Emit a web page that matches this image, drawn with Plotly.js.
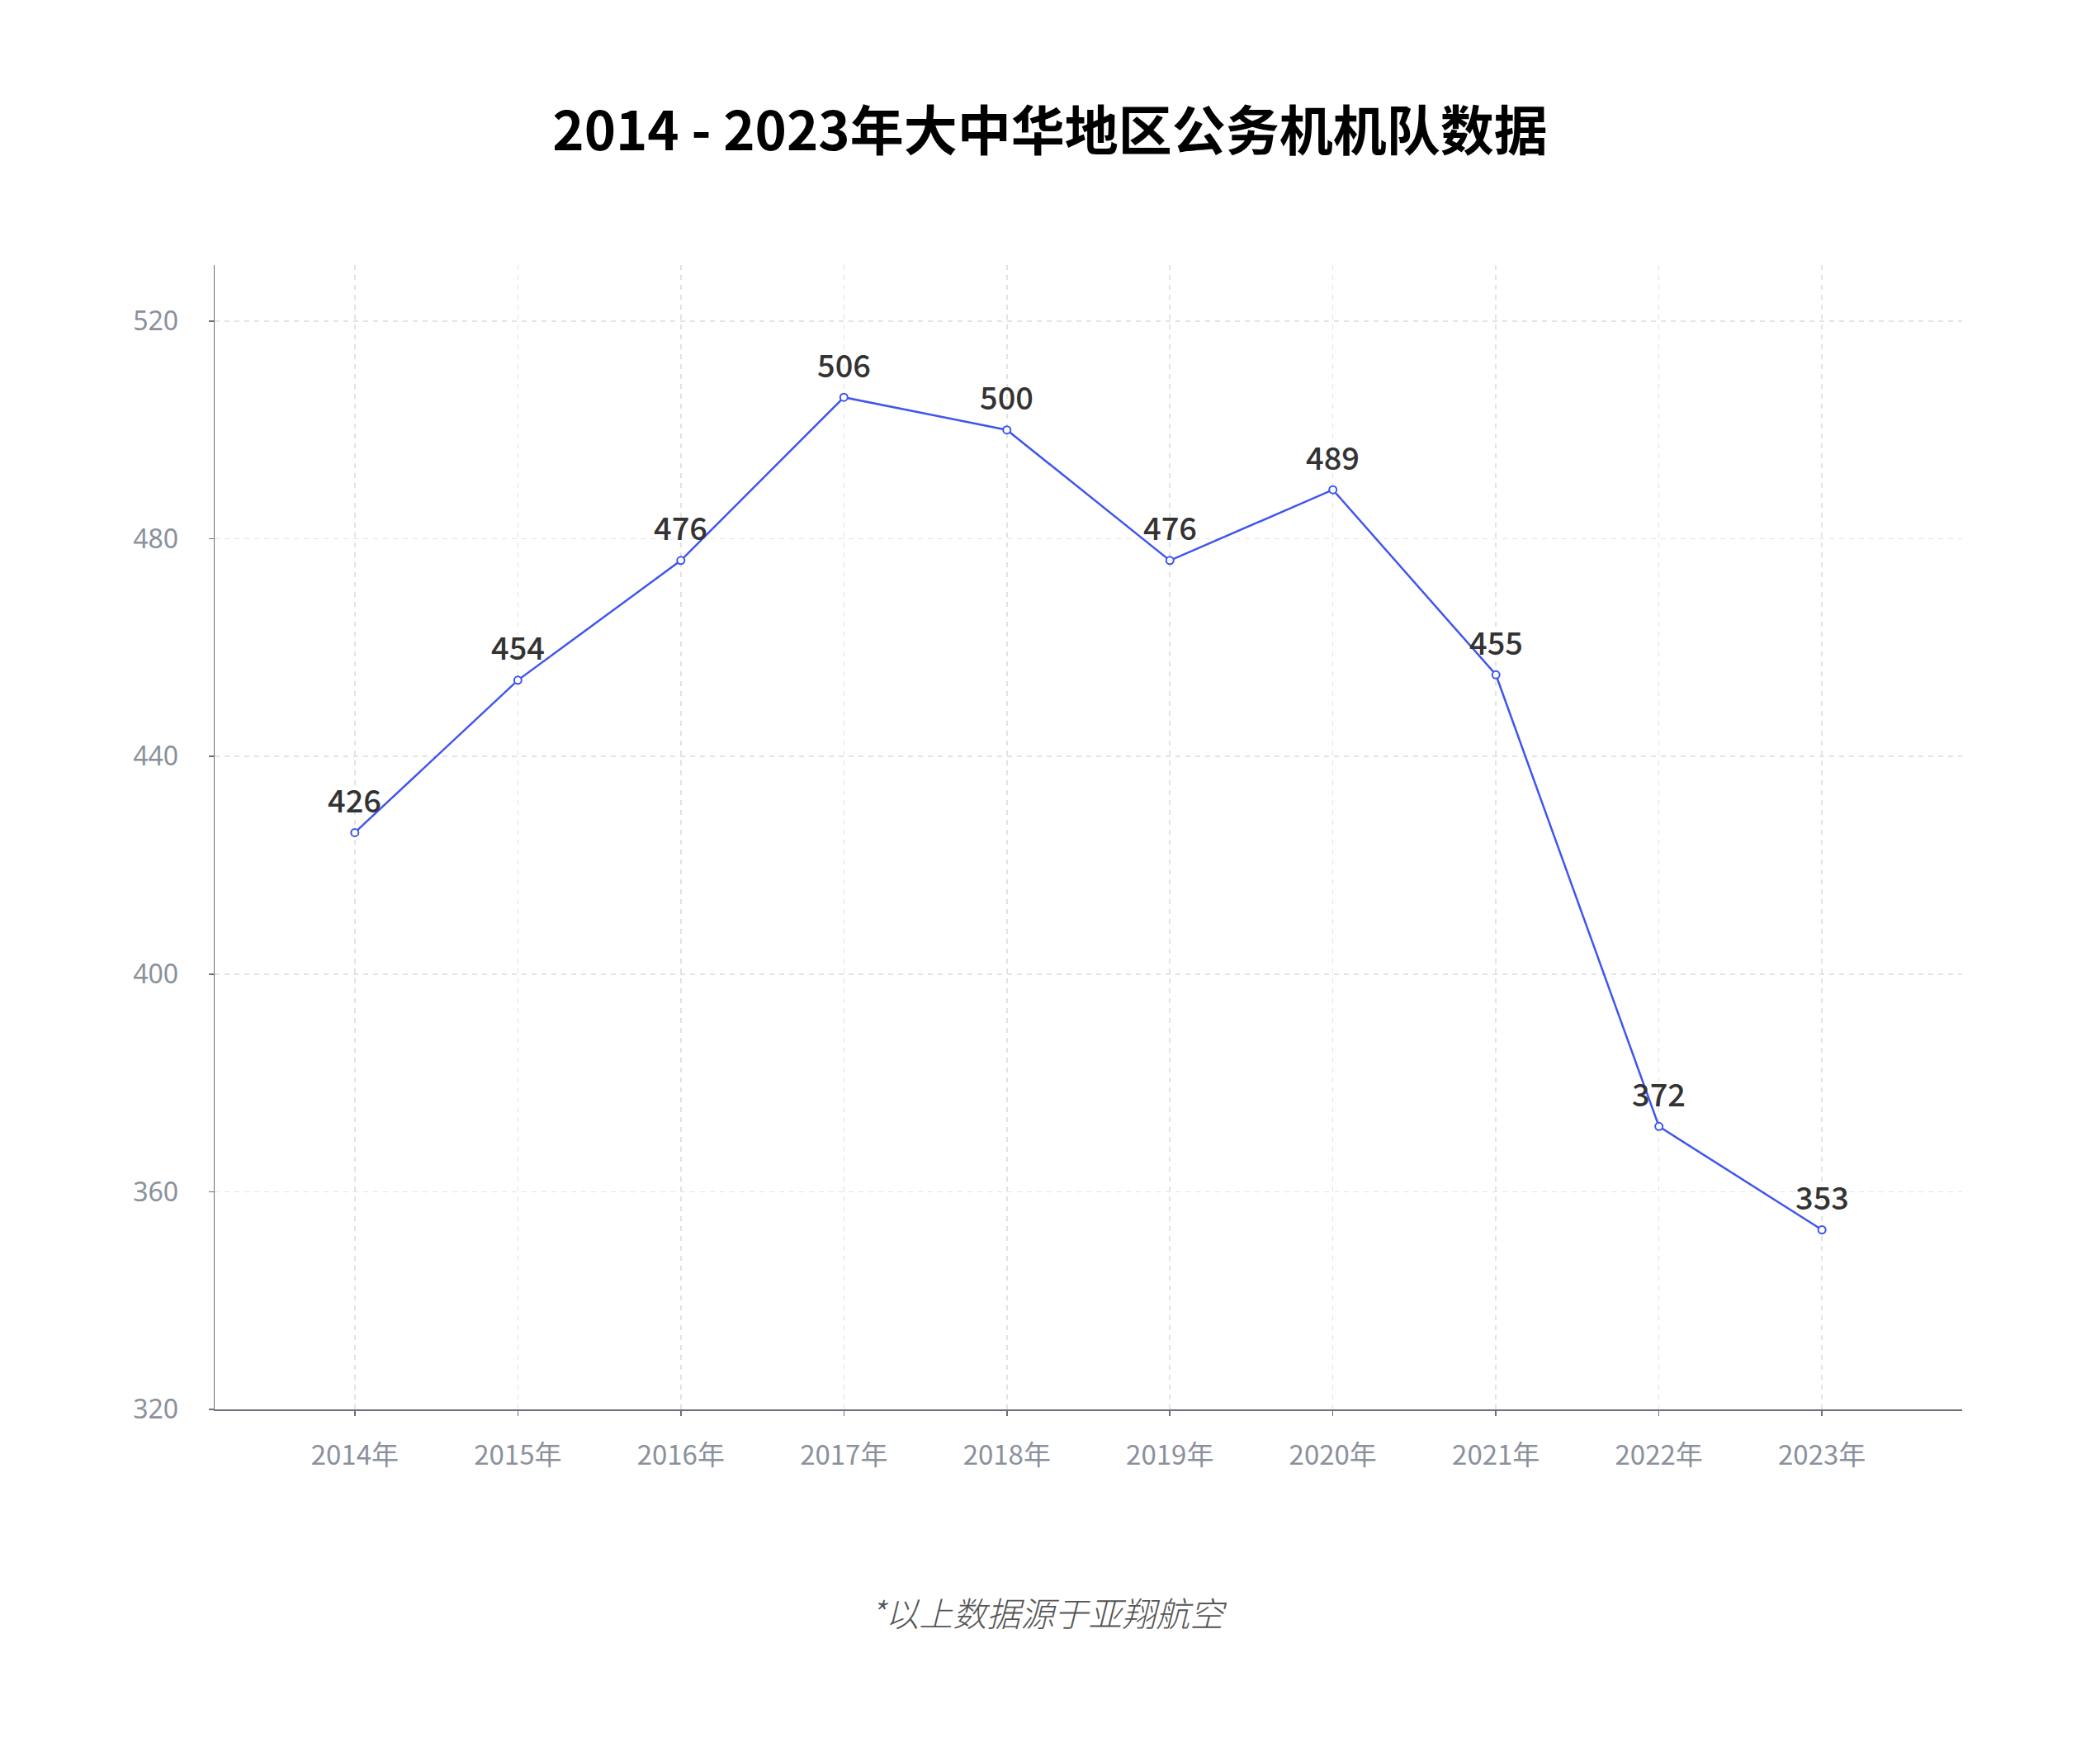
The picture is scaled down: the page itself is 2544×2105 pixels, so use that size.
<!DOCTYPE html>
<html>
<head>
<meta charset="utf-8">
<script src="https://cdn.plot.ly/plotly-3.0.1.min.js"></script>
<style>html,body{margin:0;padding:0;background:#fff;}#chart{width:2544px;height:2105px;}</style>
</head>
<body>
<div id="chart"></div>
<script>
const years = ["2014年","2015年","2016年","2017年","2018年","2019年","2020年","2021年","2022年","2023年"];
const fleet = [426, 454, 476, 506, 500, 476, 489, 455, 372, 353];
const yTicks = [320, 360, 400, 440, 480, 520];
const titleText = "2014 - 2023年大中华地区公务机机队数据";
const noteText = "*以上数据源于亚翔航空";

const trace = {
  x: years,
  y: fleet,
  type: "scatter",
  mode: "lines+markers",
  line: {color: "#3f55ee", width: 2.5},
  marker: {symbol: "circle", size: 9, color: "#ffffff", line: {color: "#3f55ee", width: 2}},
  hoverinfo: "skip",
  cliponaxis: false
};

const labels = years.map((yr, i) => ({
  x: yr, y: fleet[i], xref: "x", yref: "y",
  text: String(fleet[i]), showarrow: false,
  yanchor: "middle", yshift: 41,
  font: {family: "Noto Sans CJK SC, Noto Sans, sans-serif", size: 38, weight: 500, color: "#333333"}
}));

labels.push({
  xref: "paper", yref: "paper", x: 0.477, y: -0.1768,
  xanchor: "center", yanchor: "middle", showarrow: false,
  text: "<i>" + noteText + "</i>",
  font: {family: "Noto Sans CJK SC, sans-serif", size: 41, weight: 300, color: "#555555"}
});

const layout = {
  width: 2544, height: 2105,
  paper_bgcolor: "#ffffff", plot_bgcolor: "#ffffff",
  margin: {l: 260, r: 167, t: 321, b: 398},
  showlegend: false,
  title: {
    text: "<b>" + titleText + "</b>",
    x: 0.5, xanchor: "center", y: 1 - 159/2105, yanchor: "middle",
    font: {family: "Noto Sans CJK SC, sans-serif", size: 65, color: "#000000"}
  },
  xaxis: {
    type: "category",
    range: [-0.86, 9.86],
    showline: true, linecolor: "#6e7079", linewidth: 1.5,
    ticks: "outside", ticklen: 6, tickcolor: "#6e7079", tickwidth: 1.5,
    showgrid: true, gridcolor: "#e3e3e3", gridwidth: 1.5, griddash: "6px,6px",
    tickfont: {family: "Noto Sans CJK SC, sans-serif", size: 33, color: "#8a919c"},
    ticklabelstandoff: 20,
    zeroline: false, fixedrange: true
  },
  yaxis: {
    range: [320, 530.3],
    tickvals: yTicks, ticktext: yTicks.map(String),
    showline: true, linecolor: "#6e7079", linewidth: 1.5,
    ticks: "outside", ticklen: 6, tickcolor: "#6e7079", tickwidth: 1.5,
    showgrid: true, gridcolor: "#e3e3e3", gridwidth: 1.5, griddash: "6px,6px",
    tickfont: {family: "Noto Sans, sans-serif", size: 32, color: "#8a919c"},
    ticklabelstandoff: 30,
    zeroline: false, fixedrange: true
  },
  annotations: labels
};

Plotly.newPlot("chart", [trace], layout, {displayModeBar: false, staticPlot: true});
</script>
</body>
</html>
